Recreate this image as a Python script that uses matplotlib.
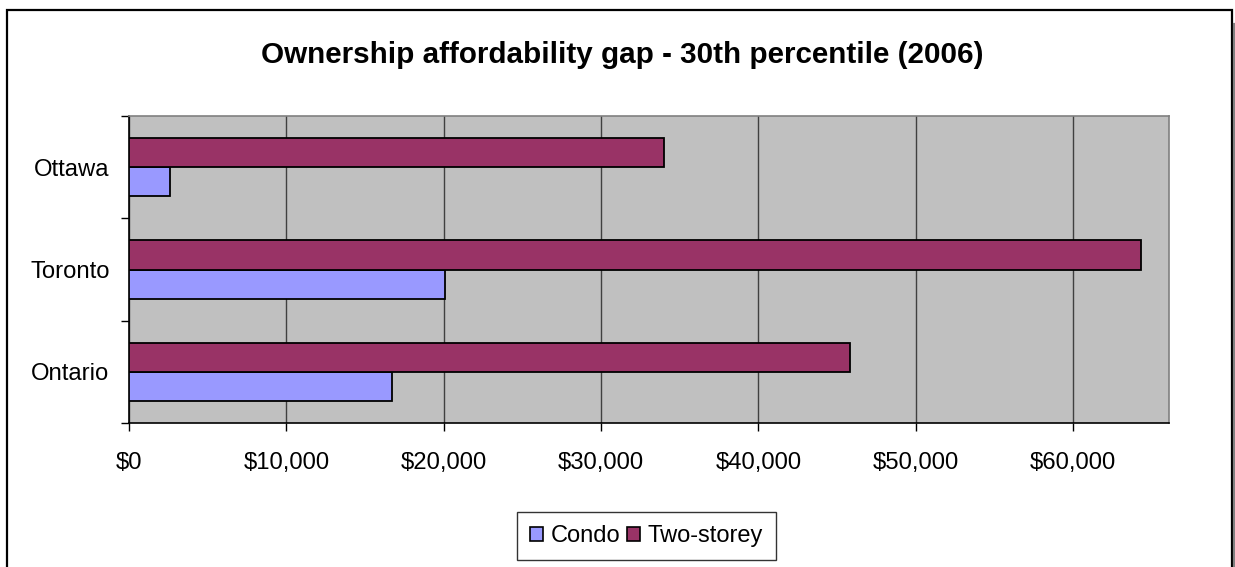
import matplotlib
matplotlib.use("Agg")
import matplotlib.pyplot as plt
from matplotlib.lines import Line2D
from matplotlib.patches import Patch
from matplotlib.ticker import FuncFormatter
import numpy as np

# Data
categories = ["Ontario", "Toronto", "Ottawa"]
condo = [16700, 20100, 2600]
two_storey = [45800, 64300, 34000]
series_names = ["Condo", "Two-storey"]
x_ticks = [0, 10000, 20000, 30000, 40000, 50000, 60000]
x_max = 66100
title = "Ownership affordability gap - 30th percentile (2006)"

plt.rcParams["font.family"] = ["Liberation Sans", "DejaVu Sans"]

W, H = 1235, 567
fig = plt.figure(figsize=(W / 100, H / 100), dpi=100)
fig.patch.set_facecolor("white")

# plot area in pixel coordinates
left, right, top, bottom = 129, 1169, 116, 423
ax = fig.add_axes([left / W, 1 - bottom / H, (right - left) / W, (bottom - top) / H])
ax.set_facecolor("#C0C0C0")

condo_color = "#9999FF"
two_color = "#993366"
bar_h = 1 / 3.5
y = np.arange(len(categories))

ax.set_axisbelow(True)
ax.barh(y - bar_h / 2, condo, height=bar_h, color=condo_color,
        edgecolor="black", linewidth=1.3, zorder=3)
ax.barh(y + bar_h / 2, two_storey, height=bar_h, color=two_color,
        edgecolor="black", linewidth=1.3, zorder=3)

ax.set_xlim(0, x_max)
ax.set_ylim(-0.5, len(categories) - 0.5)

ax.set_xticks(x_ticks)
ax.xaxis.set_major_formatter(FuncFormatter(lambda v, p: "${:,.0f}".format(v)))
ax.grid(axis="x", color="#404040", linewidth=1.0, zorder=1)
ax.tick_params(axis="x", direction="out", length=6, width=1, color="black",
               labelsize=17.2, pad=15)

# category separators as major ticks, names on minor ticks
ax.set_yticks(np.arange(-0.5, len(categories), 1.0))
ax.set_yticklabels([])
ax.set_yticks(y, minor=True)
ax.set_yticklabels(categories, minor=True)
ax.tick_params(axis="y", which="major", direction="out", length=6, width=1,
               color="black")
ax.tick_params(axis="y", which="minor", length=0, labelsize=17.2, pad=14)

for s in ["top", "right"]:
    ax.spines[s].set_color("#808080")
    ax.spines[s].set_linewidth(1.2)
for s in ["left", "bottom"]:
    ax.spines[s].set_color("black")
    ax.spines[s].set_linewidth(1.2)

fig.text(622 / W, 1 - 63 / H, title, ha="center", va="baseline",
         fontsize=21.3, fontweight="bold")

handles = [Patch(facecolor=condo_color, edgecolor="black", linewidth=1.2),
           Patch(facecolor=two_color, edgecolor="black", linewidth=1.2)]
leg = fig.legend(handles, series_names, loc="center",
                 bbox_to_anchor=(646.5 / W, 1 - 536 / H), ncol=2,
                 fontsize=17, frameon=True, fancybox=False,
                 handlelength=0.55, handleheight=0.55, handletextpad=0.3,
                 columnspacing=0.3, borderpad=0.55, borderaxespad=0)
leg.get_frame().set_edgecolor("black")
leg.get_frame().set_linewidth(1.0)

# outer chart frame with a soft shadow on the right
def px(xs, ys):
    return [v / W for v in xs], [1 - v / H for v in ys]

fx, fy = px([7, 7, 1232, 1232], [H + 5, 10, 10, H + 5])
fig.add_artist(Line2D(fx, fy, transform=fig.transFigure, color="black",
                      linewidth=1.6, solid_joinstyle="miter"))
sx, sy = px([1234, 1234], [24, H + 5])
fig.add_artist(Line2D(sx, sy, transform=fig.transFigure, color="#808080",
                      linewidth=1.6))

fig.savefig("out.png", dpi=100)
